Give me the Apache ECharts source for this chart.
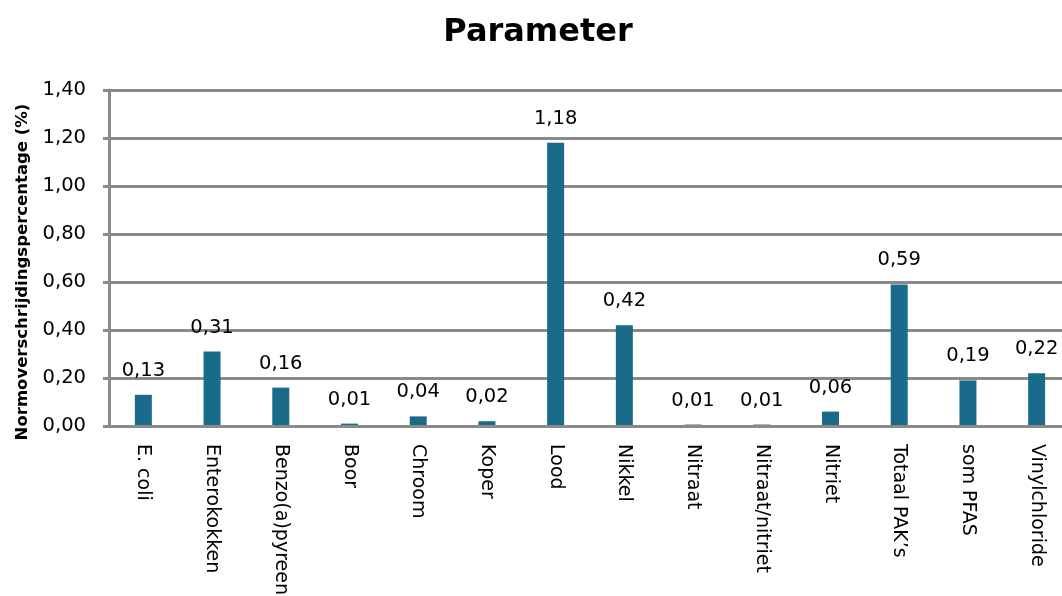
<!DOCTYPE html>
<html>
<head>
<meta charset="utf-8">
<script src="https://cdn.jsdelivr.net/npm/echarts@6/dist/echarts.min.js"></script>
<style>
  html, body { margin: 0; padding: 0; background: #ffffff; }
  #chart { width: 1062px; height: 596px; }
</style>
</head>
<body>
<div id="chart"></div>
<script>
// Categories (parameters) and exceedance percentages
const categories = [
  'E. coli', 'Enterokokken', 'Benzo(a)pyreen', 'Boor', 'Chroom', 'Koper', 'Lood',
  'Nikkel', 'Nitraat', 'Nitraat/nitriet', 'Nitriet', 'Totaal PAK\u2019s', 'som PFAS', 'Vinylchloride'
];
const values = [0.13, 0.31, 0.16, 0.01, 0.04, 0.02, 1.18, 0.42, 0.006, 0.006, 0.06, 0.59, 0.19, 0.22];
const yTicks = { min: 0, max: 1.4, interval: 0.2 };

const fmt = v => v.toFixed(2).replace('.', ',');
const FONT = '"DejaVu Sans", "Open Sans", sans-serif';
const GRID_GREY = '#8a8a8a';

const chart = echarts.init(document.getElementById('chart'), null, { renderer: 'canvas' });
chart.setOption({
  animation: false,
  backgroundColor: '#ffffff',
  title: {
    text: 'Parameter',
    left: 533,
    top: 12,
    textAlign: 'center',
    textStyle: { fontFamily: FONT, fontSize: 32, fontWeight: 'bold', color: '#000' }
  },
  // plot area runs past the right edge; long category names run past the bottom
  grid: { left: 109, top: 90, width: 962, bottom: 170, containLabel: false, outerBoundsMode: 'none' },
  xAxis: {
    type: 'category',
    data: categories,
    z: 5,
    axisLine: { show: true, lineStyle: { color: GRID_GREY, width: 3 } },
    axisTick: { show: false },
    axisLabel: {
      rotate: -90,
      interval: 0,
      margin: 18,
      fontFamily: FONT,
      fontSize: 19,
      color: '#000'
    }
  },
  yAxis: {
    type: 'value',
    min: yTicks.min,
    max: yTicks.max,
    interval: yTicks.interval,
    name: 'Normoverschrijdingspercentage (%)',
    nameLocation: 'middle',
    nameRotate: 90,
    nameGap: 78,
    nameTextStyle: {
      fontFamily: FONT, fontSize: 16.5, fontWeight: 'bold', color: '#000',
      padding: [0, 28, 0, 0]
    },
    axisLine: { show: true, lineStyle: { color: GRID_GREY, width: 3 } },
    axisTick: { show: true, length: 6, lineStyle: { color: GRID_GREY, width: 3 } },
    splitLine: { show: true, lineStyle: { color: GRID_GREY, width: 3 } },
    axisLabel: {
      margin: 23,
      fontFamily: FONT,
      fontSize: 19.5,
      color: '#000',
      formatter: v => fmt(v)
    }
  },
  series: [{
    type: 'bar',
    data: values,
    barWidth: 17,
    z: 2,
    itemStyle: { color: '#1a6b89' },
    label: {
      show: true,
      position: 'top',
      distance: 14,
      fontFamily: FONT,
      fontSize: 19.5,
      color: '#000',
      formatter: p => fmt(p.value)
    }
  }]
});
</script>
</body>
</html>
